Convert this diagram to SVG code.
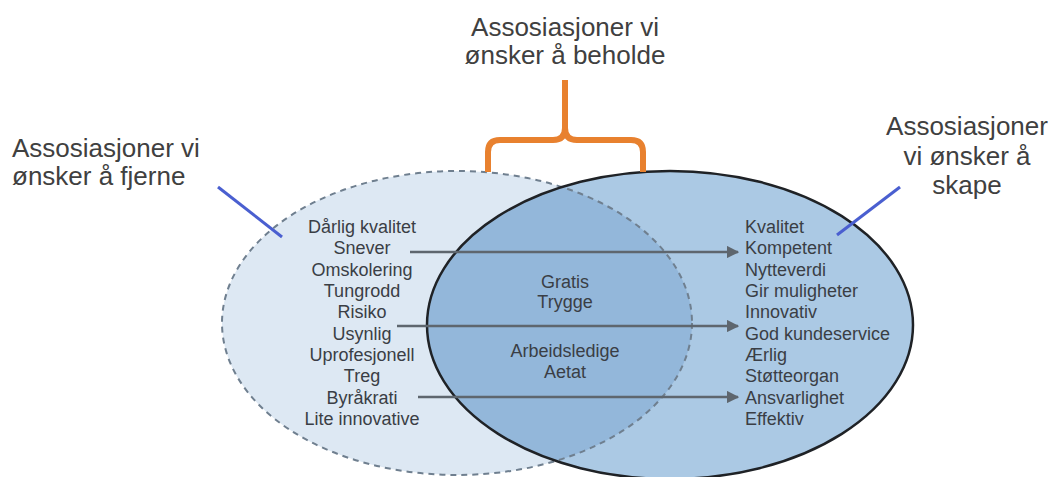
<svg xmlns="http://www.w3.org/2000/svg" width="1058" height="477" viewBox="0 0 1058 477">
<style>
.t{font-family:"Liberation Sans",Arial,sans-serif;fill:#3a3e45}
.big{font-size:26px;fill:#404040}
.sm{font-size:18px}
.c{text-anchor:middle}
.arr{stroke:#5e666e;stroke-width:2.5;fill:none;marker-end:url(#ah)}
.ptr{stroke:#4a5fd0;stroke-width:3;fill:none}
</style>
<defs>
<marker id="ah" viewBox="0 0 10 10" refX="9" refY="5" markerWidth="5" markerHeight="5" orient="auto" markerUnits="strokeWidth">
<path d="M0,0 L10,5 L0,10 z" fill="#5e666e"/>
</marker>
<clipPath id="leftClip"><ellipse cx="457" cy="323" rx="235" ry="152"/></clipPath>
</defs>
<rect width="1058" height="477" fill="#ffffff"/>
<g id="left-set">
<ellipse cx="457" cy="323" rx="235" ry="152" fill="#dde8f3"/>
</g>
<g id="right-set">
<ellipse cx="670" cy="325" rx="243" ry="154" fill="#abc9e4"/>
<ellipse cx="670" cy="325" rx="243" ry="154" fill="#93b7da" clip-path="url(#leftClip)"/>
<ellipse cx="457" cy="323" rx="235" ry="152" fill="none" stroke="#6f7f8f" stroke-width="2" stroke-dasharray="6,5"/>
<ellipse cx="670" cy="325" rx="243" ry="154" fill="none" stroke="#1f2226" stroke-width="2.5"/>
</g>
<g id="bracket">
<path d="M565,80 V128 Q565,140 553,140 H500 Q488,140 488,152 V172 M565,128 Q565,140 577,140 H631 Q643,140 643,152 V172" fill="none" stroke="#e8812f" stroke-width="6"/>
</g>
<g id="label-keep">
<text class="t big c" x="565" y="36">Assosiasjoner vi</text>
<text class="t big c" x="565" y="64">ønsker å beholde</text>
</g>
<g id="label-remove">
<text class="t big" x="12" y="157">Assosiasjoner vi</text>
<text class="t big" x="12" y="185">ønsker å fjerne</text>
</g>
<g id="label-create">
<text class="t big c" x="967" y="135">Assosiasjoner</text>
<text class="t big c" x="967" y="165">vi ønsker å</text>
<text class="t big c" x="967" y="194">skape</text>
</g>
<g id="pointers">
<line class="ptr" x1="218" y1="187" x2="282" y2="237"/>
<line class="ptr" x1="900" y1="187" x2="837" y2="235"/>
</g>
<g id="list-remove">
<text class="t sm c" x="362" y="233">Dårlig kvalitet</text>
<text class="t sm c" x="362" y="254">Snever</text>
<text class="t sm c" x="362" y="276">Omskolering</text>
<text class="t sm c" x="362" y="297">Tungrodd</text>
<text class="t sm c" x="362" y="318">Risiko</text>
<text class="t sm c" x="362" y="340">Usynlig</text>
<text class="t sm c" x="362" y="361">Uprofesjonell</text>
<text class="t sm c" x="362" y="382">Treg</text>
<text class="t sm c" x="362" y="404">Byråkrati</text>
<text class="t sm c" x="362" y="425">Lite innovative</text>
</g>
<g id="list-keep">
<text class="t sm c" x="565" y="288">Gratis</text>
<text class="t sm c" x="565" y="308">Trygge</text>
<text class="t sm c" x="565" y="357">Arbeidsledige</text>
<text class="t sm c" x="565" y="378">Aetat</text>
</g>
<g id="list-create">
<text class="t sm" x="745" y="233">Kvalitet</text>
<text class="t sm" x="745" y="254">Kompetent</text>
<text class="t sm" x="745" y="276">Nytteverdi</text>
<text class="t sm" x="745" y="297">Gir muligheter</text>
<text class="t sm" x="745" y="318">Innovativ</text>
<text class="t sm" x="745" y="340">God kundeservice</text>
<text class="t sm" x="745" y="361">Ærlig</text>
<text class="t sm" x="745" y="382">Støtteorgan</text>
<text class="t sm" x="745" y="404">Ansvarlighet</text>
<text class="t sm" x="745" y="425">Effektiv</text>
</g>
<g id="connectors">
<line class="arr" x1="410" y1="252" x2="738" y2="252"/>
<line class="arr" x1="397" y1="326" x2="738" y2="326"/>
<line class="arr" x1="418" y1="397" x2="738" y2="397"/>
</g>
</svg>
